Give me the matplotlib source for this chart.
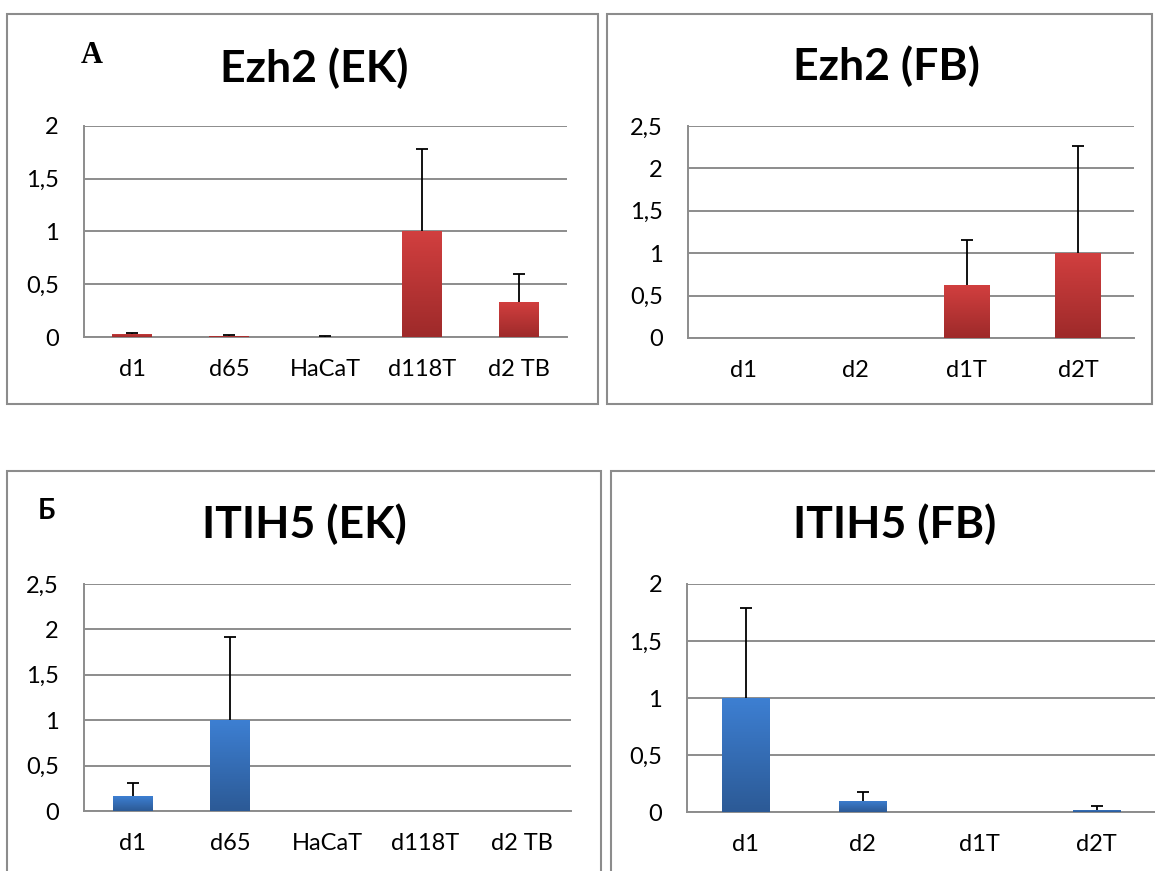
import numpy as np
import matplotlib
matplotlib.use('Agg')
import matplotlib.pyplot as plt
from matplotlib.patches import Rectangle
from matplotlib.colors import LinearSegmentedColormap

# data
ek_labels = ['d1', 'd65', 'HaCaT', 'd118T', 'd2 TB']
fb_labels = ['d1', 'd2', 'd1T', 'd2T']

ezh2_ek = [0.03, 0.012, 0.003, 1.0, 0.33]
ezh2_ek_err = [0.01, 0.008, 0.004, 0.78, 0.27]
ezh2_fb = [0.0, 0.0, 0.62, 1.0]
ezh2_fb_err = [0.0, 0.0, 0.54, 1.26]

itih5_ek = [0.165, 1.0, 0.003, 0.003, 0.003]
itih5_ek_err = [0.14, 0.92, 0.0, 0.0, 0.0]
itih5_fb = [1.0, 0.099, 0.003, 0.02]
itih5_fb_err = [0.79, 0.08, 0.0, 0.035]

W, H = 1155, 871
GRID = '#8c8c8c'
FONT = 'Lato'

red_cmap = LinearSegmentedColormap.from_list('r', ['#9e2a2a', '#d13f3f'])
blue_cmap = LinearSegmentedColormap.from_list('b', ['#2c5a96', '#3d7fd2'])

fig = plt.figure(figsize=(W / 100, H / 100), dpi=100)


def px_axes(left, right, top, bottom):
    return fig.add_axes([left / W, 1 - bottom / H, (right - left) / W, (bottom - top) / H])


def border(x0, y0, x1, y1):
    fig.add_artist(Rectangle((x0 / W, 1 - y1 / H), (x1 - x0) / W, (y1 - y0) / H,
                             transform=fig.transFigure, fill=False,
                             edgecolor=GRID, linewidth=1.5))


def panel(box, labels, vals, errs, ymax, cmap, title, title_xy):
    ax = px_axes(*box)
    x = np.arange(len(labels))
    vals = np.array(vals)
    errs = np.array(errs)
    bars = ax.bar(x, vals, width=0.41, color='none', edgecolor='none', zorder=3)
    grad = np.linspace(0, 1, 100).reshape(-1, 1)
    for b in bars:
        if b.get_height() <= 0:
            continue
        bx, by = b.get_x(), b.get_y()
        im = ax.imshow(grad, cmap=cmap, origin='lower', aspect='auto',
                       extent=[bx, bx + b.get_width(), by, by + b.get_height()], zorder=3)
        im.set_clip_path(b)
    # upper error only, cap on top
    show = errs > 0
    ax.vlines(x[show], vals[show], vals[show] + errs[show], color='black', linewidth=1.3, zorder=4)
    ax.plot(x[show], vals[show] + errs[show], linestyle='none', marker='_',
            markersize=8, markeredgewidth=1.3, color='black', zorder=4)
    ax.set_xlim(-0.5, len(labels) - 0.5)
    ax.set_ylim(0, ymax)
    ticks = np.arange(0, ymax + 0.01, 0.5)
    ax.set_yticks(ticks)
    ax.set_yticklabels([('%g' % v).replace('.', ',') for v in ticks])
    ax.set_xticks(x)
    ax.set_xticklabels(labels)
    ax.yaxis.grid(True, color=GRID, linewidth=1.4)
    ax.set_axisbelow(True)
    for s in ['top', 'right']:
        ax.spines[s].set_visible(False)
    for s in ['left', 'bottom']:
        ax.spines[s].set_color(GRID)
        ax.spines[s].set_linewidth(1.4)
    ax.tick_params(axis='both', length=0, labelsize=17, colors='black')
    ax.tick_params(axis='x', pad=16)
    ax.tick_params(axis='y', pad=18)
    for t in ax.get_xticklabels() + ax.get_yticklabels():
        t.set_fontfamily(FONT)
    ax.patch.set_alpha(0)
    fig.text(title_xy[0] / W, 1 - title_xy[1] / H, title, ha='center', va='center',
             fontsize=32, fontweight='bold', family=FONT)
    return ax


border(7, 14, 598, 404)
border(607, 14, 1152, 404)
border(7, 471, 601, 880)
border(611, 471, 1170, 880)

panel((84, 567, 126, 337), ek_labels, ezh2_ek, ezh2_ek_err, 2.0, red_cmap, 'Ezh2 (EK)', (314, 68))
panel((688, 1134, 126, 338), fb_labels, ezh2_fb, ezh2_fb_err, 2.5, red_cmap, 'Ezh2 (FB)', (886, 66))
panel((84, 571, 584, 811), ek_labels, itih5_ek, itih5_ek_err, 2.5, blue_cmap, 'ITIH5 (EK)', (304, 524))
panel((687, 1155, 584, 812), fb_labels, itih5_fb, itih5_fb_err, 2.0, blue_cmap, 'ITIH5 (FB)', (895, 524))

fig.text(81 / W, 1 - 63 / H, 'A', fontsize=22, fontweight='bold', family='Liberation Serif')
fig.text(38 / W, 1 - 519 / H, 'Б', fontsize=20, fontweight='bold', family=FONT)

fig.savefig('out.png', dpi=100)
